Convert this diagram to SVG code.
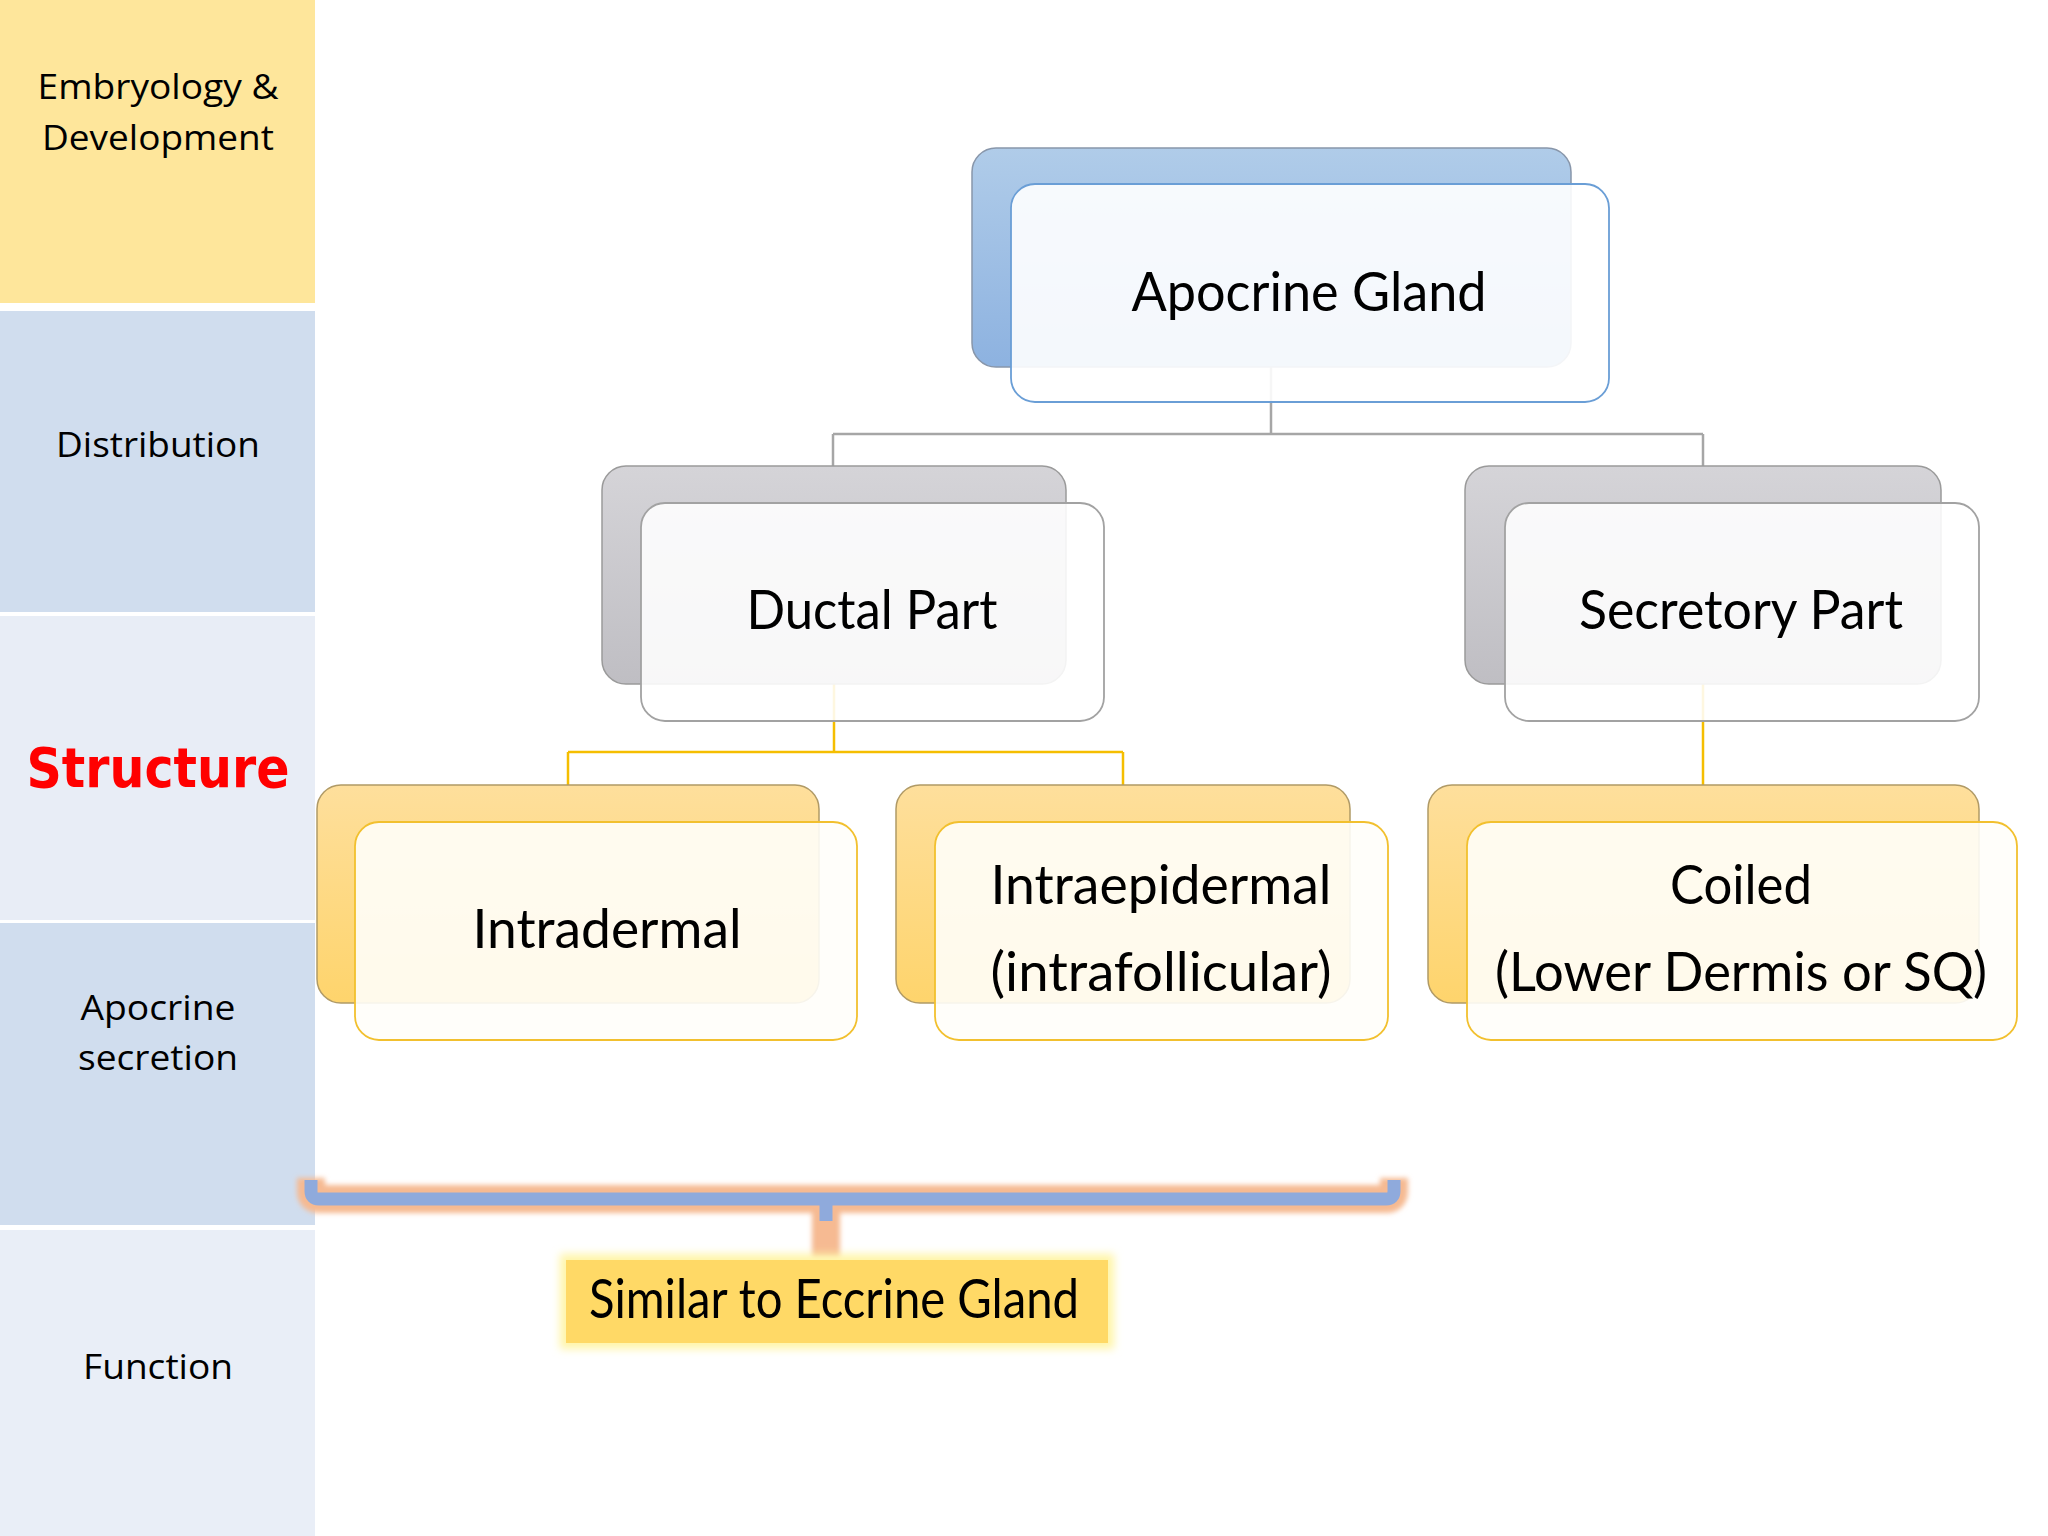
<svg xmlns="http://www.w3.org/2000/svg" width="2048" height="1536" viewBox="0 0 2048 1536">
<defs>
<linearGradient id="gBlue" x1="0" y1="0" x2="0" y2="1"><stop offset="0" stop-color="#B0CCE9"/><stop offset="1" stop-color="#8DB2E0"/></linearGradient>
<linearGradient id="gGray" x1="0" y1="0" x2="0" y2="1"><stop offset="0" stop-color="#D5D4D8"/><stop offset="1" stop-color="#BFBEC3"/></linearGradient>
<linearGradient id="gGold" x1="0" y1="0" x2="0" y2="1"><stop offset="0" stop-color="#FEDF9C"/><stop offset="1" stop-color="#FED46C"/></linearGradient>
<filter id="blur" x="-20%" y="-200%" width="140%" height="500%"><feGaussianBlur stdDeviation="2.5"/></filter>
<filter id="blurBox" x="-10%" y="-40%" width="120%" height="180%"><feGaussianBlur stdDeviation="4"/></filter>
</defs>
<style>
.side{font-family:"Open Sans","DejaVu Sans",sans-serif;font-size:35px;fill:#000;text-anchor:middle}
.lbl{font-family:"Lato","Liberation Sans",sans-serif;font-size:54px;fill:#000;text-anchor:middle}
.back-blue{fill:url(#gBlue);stroke:#8896AA;stroke-width:1.5}
.back-gray{fill:url(#gGray);stroke:#9A9A9A;stroke-width:1.5}
.back-gold{fill:url(#gGold);stroke:#B09A66;stroke-width:1.5}
.front-blue{fill:#FFFFFF;fill-opacity:0.9;stroke:#6A9ED6;stroke-width:1.8}
.front-gray{fill:#FFFFFF;fill-opacity:0.88;stroke:#A2A2A2;stroke-width:1.8}
.front-gold{fill:#FFFEFA;fill-opacity:0.9;stroke:#F2C02E;stroke-width:1.8}
.conn-gray{fill:none;stroke:#A6A6A6;stroke-width:2.5}
.conn-gold{fill:none;stroke:#F5BE00;stroke-width:2.5}
</style>
<rect width="2048" height="1536" fill="#FFFFFF"/>

<g id="side-panels">
<rect x="0" y="0" width="315" height="303" fill="#FEE69B"/>
<rect x="0" y="311" width="315" height="301" fill="#D0DDEE"/>
<rect x="0" y="616" width="315" height="304" fill="#E8EDF6"/>
<rect x="0" y="923" width="315" height="302" fill="#D0DDEE"/>
<rect x="0" y="1230" width="315" height="306" fill="#E9EEF7"/>
<text class="side" x="158" y="99" textLength="241" lengthAdjust="spacingAndGlyphs">Embryology &amp;</text>
<text class="side" x="158" y="150" textLength="232" lengthAdjust="spacingAndGlyphs">Development</text>
<text class="side" x="158" y="457" textLength="204" lengthAdjust="spacingAndGlyphs">Distribution</text>
<text x="158" y="787" font-family="DejaVu Sans, sans-serif" font-weight="bold" font-size="56" fill="#FF0000" text-anchor="middle" textLength="263" lengthAdjust="spacingAndGlyphs">Structure</text>
<text class="side" x="158" y="1020" textLength="155" lengthAdjust="spacingAndGlyphs">Apocrine</text>
<text class="side" x="158" y="1070" textLength="160" lengthAdjust="spacingAndGlyphs">secretion</text>
<text class="side" x="158" y="1379" textLength="150" lengthAdjust="spacingAndGlyphs">Function</text>
</g>

<g id="connectors">
<path class="conn-gray" d="M1271 367 V434 M833 434 H1703 M833 434 V466 M1703 434 V466"/>
<path class="conn-gold" d="M834 684 V752 M568 752 H1123 M568 752 V785 M1123 752 V785 M1703 684 V785"/>
</g>

<g id="node-apocrine-gland">
<rect class="back-blue" x="972" y="148" width="599" height="219" rx="24"/>
<rect class="front-blue" x="1011" y="184" width="598" height="218" rx="24"/>
<text class="lbl" x="1309" y="311" textLength="355" lengthAdjust="spacingAndGlyphs">Apocrine Gland</text>
</g>

<g id="node-ductal-part">
<rect class="back-gray" x="602" y="466" width="464" height="218" rx="24"/>
<rect class="front-gray" x="641" y="503" width="463" height="218" rx="24"/>
<text class="lbl" x="872" y="629" textLength="251" lengthAdjust="spacingAndGlyphs">Ductal Part</text>
</g>

<g id="node-secretory-part">
<rect class="back-gray" x="1465" y="466" width="476" height="218" rx="24"/>
<rect class="front-gray" x="1505" y="503" width="474" height="218" rx="24"/>
<text class="lbl" x="1741" y="629" textLength="324" lengthAdjust="spacingAndGlyphs">Secretory Part</text>
</g>

<g id="node-intradermal">
<rect class="back-gold" x="317" y="785" width="502" height="218" rx="24"/>
<rect class="front-gold" x="355" y="822" width="502" height="218" rx="24"/>
<text class="lbl" x="607" y="948" textLength="269" lengthAdjust="spacingAndGlyphs">Intradermal</text>
</g>

<g id="node-intraepidermal">
<rect class="back-gold" x="896" y="785" width="454" height="218" rx="24"/>
<rect class="front-gold" x="935" y="822" width="453" height="218" rx="24"/>
<text class="lbl" x="1161" y="904" textLength="341" lengthAdjust="spacingAndGlyphs">Intraepidermal</text>
<text class="lbl" x="1161" y="991" textLength="341" lengthAdjust="spacingAndGlyphs">(intrafollicular)</text>
</g>

<g id="node-coiled">
<rect class="back-gold" x="1428" y="785" width="551" height="218" rx="24"/>
<rect class="front-gold" x="1467" y="822" width="550" height="218" rx="24"/>
<text class="lbl" x="1741" y="904" textLength="142" lengthAdjust="spacingAndGlyphs">Coiled</text>
<text class="lbl" x="1741" y="991" textLength="492" lengthAdjust="spacingAndGlyphs">(Lower Dermis or SQ)</text>
</g>

<g id="bracket">
<path d="M311 1178 V1191 Q311 1199 319 1199 H1386 Q1394 1199 1394 1191 V1178 M826 1199 V1258" fill="none" stroke="#F6BA92" stroke-width="28" stroke-linejoin="round" filter="url(#blur)"/>
<path d="M311 1180 V1191 Q311 1199 319 1199 H1386 Q1394 1199 1394 1191 V1180 M826 1199 V1221" fill="none" stroke="#8FAADC" stroke-width="13"/>
</g>

<g id="node-similar">
<rect x="560" y="1254" width="554" height="95" fill="#FFF5A8" filter="url(#blurBox)"/>
<rect x="566" y="1260" width="542" height="83" fill="#FFD966"/>
<text class="lbl" x="834" y="1318" font-size="47" textLength="490" lengthAdjust="spacingAndGlyphs">Similar to Eccrine Gland</text>
</g>
</svg>
